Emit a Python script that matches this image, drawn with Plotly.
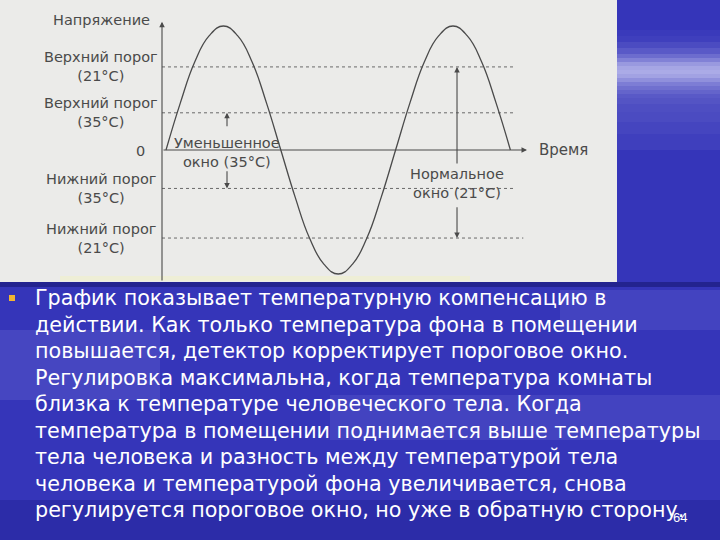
import plotly.graph_objects as go

W, H = 720, 540

# ---- data ----
time_pts = list(range(0, 25))
voltage = [0, 0.38, 0.71, 0.92, 1, 0.92, 0.71, 0.38, 0, -0.38, -0.71, -0.92, -1,
           -0.92, -0.71, -0.38, 0, 0.38, 0.71, 0.92, 1, 0.92, 0.71, 0.38, 0]

threshold_names = ["Верхний порог<br>(21°C)", "Верхний порог<br>(35°C)",
                   "Нижний порог<br>(35°C)", "Нижний порог<br>(21°C)"]
threshold_vals = [0.67, 0.30, -0.31, -0.71]
threshold_end = [24.3, 24.3, 24.3, 24.9]

reduced_window = {"t": 4.25, "label": "Уменьшенное<br>окно (35°C)", "top": 0.30, "bottom": -0.31}
normal_window = {"t": 20.28, "label": "Нормальное<br>окно (21°C)", "top": 0.67, "bottom": -0.71}

y_title = "Напряжение"
x_title = "Время"

body_lines = [
    "График показывает температурную компенсацию в",
    "действии. Как только температура фона в помещении",
    "повышается, детектор корректирует пороговое окно.",
    "Регулировка максимальна, когда температура комнаты",
    "близка к температуре человеческого тела. Когда",
    "температура в помещении поднимается выше температуры",
    "тела человека и разность между температурой тела",
    "человека и температурой фона увеличивается, снова",
    "регулируется пороговое окно, но уже в обратную сторону.",
]
slide_number = "64"

# ---- figure ----
INK = "#4a4a4a"
LBL = dict(family="DejaVu Sans", size=14.5, color=INK)
AX_X = -0.28
X_RANGE = [-11.57, 31.43]
Y_RANGE = [-1.0645, 1.2097]

fig = go.Figure()

for v, xe in zip(threshold_vals, threshold_end):
    fig.add_trace(go.Scatter(x=[AX_X, xe], y=[v, v], mode="lines",
                             line=dict(color="#6a6a6a", width=1, dash="dot"),
                             hoverinfo="skip", showlegend=False))

fig.add_trace(go.Scatter(x=time_pts, y=voltage, mode="lines",
                         line=dict(color="#4a4a4a", width=1.3, shape="spline", smoothing=1.3),
                         hoverinfo="skip", showlegend=False))

ann = []
ann.append(dict(x=AX_X, y=1.035, ax=AX_X, ay=Y_RANGE[0], xref="x", yref="y", axref="x", ayref="y",
                showarrow=True, arrowhead=2, arrowsize=1, arrowwidth=1.1, arrowcolor=INK, text=""))
ann.append(dict(x=25.16, y=0, ax=AX_X, ay=0, xref="x", yref="y", axref="x", ayref="y",
                showarrow=True, arrowhead=2, arrowsize=1, arrowwidth=1.1, arrowcolor=INK, text=""))
ann.append(dict(x=-0.98, y=1.05, xref="x", yref="y", text=y_title, showarrow=False,
                xanchor="right", yanchor="middle", font=LBL))
ann.append(dict(x=25.85, y=0.0, xref="x", yref="y", text=x_title, showarrow=False,
                xanchor="left", yanchor="middle", font=dict(family="DejaVu Sans", size=15, color=INK)))
ann.append(dict(x=-1.81, y=-0.01, xref="x", yref="y", text="0", showarrow=False,
                xanchor="center", yanchor="middle", font=LBL))
for name, v in zip(threshold_names, threshold_vals):
    ann.append(dict(x=-4.55, y=v, xref="x", yref="y", text=name, showarrow=False,
                    xanchor="center", yanchor="middle", font=LBL))


def window(w, label_v, up_from, down_from):
    out = []
    out.append(dict(x=w["t"], y=w["top"], ax=w["t"], ay=up_from, xref="x", yref="y", axref="x", ayref="y",
                    showarrow=True, arrowhead=2, arrowsize=1, arrowwidth=1.1, arrowcolor=INK, text=""))
    out.append(dict(x=w["t"], y=w["bottom"], ax=w["t"], ay=down_from, xref="x", yref="y", axref="x", ayref="y",
                    showarrow=True, arrowhead=2, arrowsize=1, arrowwidth=1.1, arrowcolor=INK, text=""))
    out.append(dict(x=w["t"], y=label_v, xref="x", yref="y", text=w["label"], showarrow=False,
                    xanchor="center", yanchor="middle", font=LBL))
    return out


ann += window(reduced_window, -0.02, 0.18, -0.16)
ann += window(normal_window, -0.27, -0.12, -0.45)

for i, line in enumerate(body_lines):
    py = 298 + 26.5 * i
    ann.append(dict(x=33 / W, y=1 - py / H, xref="paper", yref="paper", text=line, showarrow=False,
                    xanchor="left", yanchor="middle",
                    font=dict(family="DejaVu Sans", size=20.7, color="white")))
ann.append(dict(x=680 / W, y=1 - 517 / H, xref="paper", yref="paper", text=slide_number, showarrow=False,
                xanchor="center", yanchor="middle", font=dict(family="Liberation Sans", size=13, color="white")))


def prect(x0, y0, x1, y1, color, layer="below"):
    return dict(type="rect", xref="paper", yref="paper", x0=x0 / W, x1=x1 / W,
                y0=1 - y1 / H, y1=1 - y0 / H, fillcolor=color, line=dict(width=0), layer=layer)


shapes = []
band = [(36, 0.03), (42, 0.06), (48, 0.12), (54, 0.2), (58, 0.3), (62, 0.42), (66, 0.55), (70, 0.62),
        (74, 0.65), (78, 0.6), (82, 0.5), (86, 0.4), (90, 0.32), (94, 0.26), (98, 0.2),
        (104, 0.17), (112, 0.14), (122, 0.12), (134, 0.09), (150, 0.06)]
prev = 30
for yb, a in band:
    shapes.append(prect(617, prev, 720, yb, f"rgba(235,235,255,{a})"))
    prev = yb
shapes.append(prect(0, 330, 160, 400, "rgba(200,200,255,0.12)"))
shapes.append(prect(330, 395, 720, 440, "rgba(200,200,255,0.10)"))
shapes.append(prect(560, 290, 720, 330, "rgba(200,200,255,0.10)"))
shapes.append(prect(0, 500, 720, 540, "rgba(20,20,120,0.25)"))
shapes.append(prect(0, 282, 720, 287, "#23238f"))
shapes.append(prect(0, 0, 617, 282, "#ebebe9"))
shapes.append(prect(60, 276, 470, 281, "#eeeed6"))
shapes.append(prect(9, 295, 15, 301, "#f2b632", layer="above"))

fig.update_layout(
    width=W, height=H,
    margin=dict(l=0, r=0, t=0, b=0, pad=0),
    paper_bgcolor="#3535b9",
    plot_bgcolor="rgba(0,0,0,0)",
    xaxis=dict(domain=[0, 617 / W], range=X_RANGE, visible=False, showgrid=False,
               zeroline=False, fixedrange=True),
    yaxis=dict(domain=[1 - 282 / H, 1], range=Y_RANGE, visible=False, showgrid=False,
               zeroline=False, fixedrange=True),
    annotations=ann,
    shapes=shapes,
    showlegend=False,
)

fig.write_html("out.html", config={"displayModeBar": False},
               post_script="document.body.style.margin='0';")
